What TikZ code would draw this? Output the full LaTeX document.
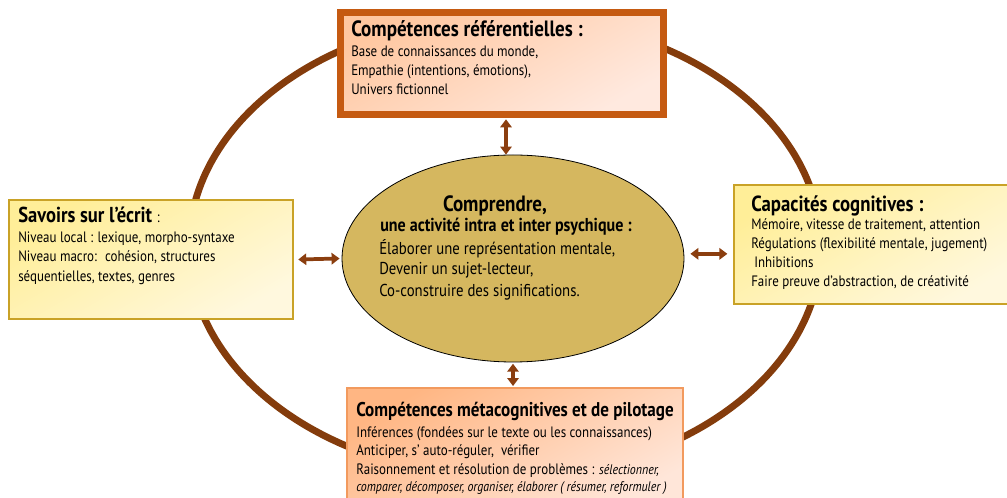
\documentclass[tikz,border=0pt]{standalone}
\usepackage{fontspec}
\setmainfont{PT Sans}[FakeStretch=0.86]
\usetikzlibrary{shapes.geometric,arrows.meta}
\definecolor{ringc}{HTML}{843C0C}
\definecolor{topborder}{HTML}{C55A11}
\definecolor{topA}{HTML}{FFC7A0}
\definecolor{topB}{HTML}{FFE9DF}
\definecolor{yelA}{HTML}{FFEE98}
\definecolor{yelB}{HTML}{FFF8DE}
\definecolor{yelborder}{HTML}{C9A227}
\definecolor{botA}{HTML}{FFB683}
\definecolor{botB}{HTML}{FFE6D9}
\definecolor{botborder}{HTML}{F29A5E}
\definecolor{centerfill}{HTML}{D5B75F}
\definecolor{arrc}{HTML}{8B3E0F}
\newcommand\fsz[1]{\fontsize{#1}{1.2\dimexpr#1\relax}\selectfont}
\tikzset{
  ttl/.style={font=\fsz{15pt}\bfseries, inner sep=0pt, anchor=base west},
  bod/.style={font=\fsz{11.3pt}, inner sep=0pt, anchor=base west},
  ybox/.style={rectangle, draw=yelborder, line width=0.9pt, shade, top color=yelA, bottom color=yelB, shading angle=30, inner sep=0pt},
  dbl/.style={arrc, line width=2.8pt, {Triangle[width=8.5pt,length=6pt]}-{Triangle[width=8.5pt,length=6pt]}}
}
\begin{document}
\begin{tikzpicture}[x=0.75pt,y=-0.75pt]
\useasboundingbox (0,0) rectangle (1007,498);
\clip (0,0) rectangle (1007,498);
% outer ring
\node[ellipse, draw=ringc, line width=5.2pt, minimum width=474pt, minimum height=345pt, inner sep=0pt] (ring) at (505,247) {};
% boxes
\node[rectangle, draw=topborder, line width=5.2pt, shade, top color=topA, bottom color=topB, shading angle=30, minimum width=242.25pt, minimum height=76.5pt, inner sep=0pt] (T) at (502,63.5) {};
\node[ybox, minimum width=213pt, minimum height=89.25pt] (L) at (151,259.5) {};
\node[ybox, minimum width=210.75pt, minimum height=89.25pt] (R) at (874.5,244.5) {};
\node[rectangle, draw=botborder, line width=0.9pt, shade, top color=botA, bottom color=botB, shading angle=30, minimum width=252pt, minimum height=91.5pt, inner sep=0pt] (B) at (515,449) {};
% center ellipse
\node[ellipse, draw=black, line width=0.6pt, fill=centerfill, minimum width=256.5pt, minimum height=155.25pt, inner sep=0pt] (C) at (513,258.5) {};
% arrows
\draw[dbl] ([xshift=3pt,yshift=-1pt]T.south) -- ([xshift=3pt]T.south |- C.north);
\draw[dbl] ([xshift=3.5pt]L.east) -- ([xshift=-1.5pt]C.west);
\draw[dbl] ([xshift=4.5pt,yshift=3.5pt]C.east) -- ([xshift=-4.5pt,yshift=3.5pt]C.east -| R.west);
\draw[dbl] ([yshift=-1pt]C.south) -- ([yshift=1pt]C.south |- B.north);
% top box text
\node[ttl, font=\fsz{16.6pt}\bfseries] (t0) at (351,37) {Compétences référentielles :};
\node[bod] (t1) at (351,57) {Base de connaissances du monde,};
\node[bod] (t2) at (351,76) {Empathie (intentions, émotions),};
\node[bod] (t3) at (351,95) {Univers fictionnel};
% left box text
\node[ttl, font=\fsz{16.2pt}\bfseries] (l0) at (18,223) {Savoirs sur l’écrit \normalfont\fsz{11.3pt}:};
\node[bod] (l1) at (18,243) {Niveau local : lexique, morpho-syntaxe};
\node[bod] (l2) at (18,262) {Niveau macro:~ cohésion, structures};
\node[bod] (l3) at (18,282) {séquentielles, textes, genres};
% right box text
\node[ttl, font=\fsz{16.4pt}\bfseries] (r0) at (751,212) {Capacités cognitives :};
\node[bod] (r1) at (751,230) {Mémoire, vitesse de traitement, attention};
\node[bod] (r2) at (751,249) {Régulations (flexibilité mentale, jugement)};
\node[bod] (r3) at (754,268) {Inhibitions};
\node[bod] (r4) at (751,287) {Faire preuve d’abstraction, de créativité};
% bottom box text
\node[ttl, font=\fsz{14.9pt}\bfseries] (b0) at (356,417) {Compétences métacognitives et de pilotage};
\node[bod] (b1) at (356,438) {Inférences (fondées sur le texte ou les connaissances)};
\node[bod] (b2) at (356,456) {Anticiper, s’ auto-réguler,~ vérifier};
\node[bod] (b3) at (356,475) {Raisonnement et résolution de problèmes : {\itshape\fsz{10.4pt}sélectionner,}};
\node[bod, font=\fsz{10.4pt}\itshape] (b4) at (356,492) {comparer, décomposer, organiser, élaborer ( résumer, reformuler )};
% center text
\node[ttl, anchor=base, font=\fsz{16.6pt}\bfseries] (c0) at (495,212) {Comprendre,};
\node[ttl, font=\fsz{14pt}\bfseries] (c1) at (380,232) {une activité intra et inter psychique :};
\node[bod, font=\fsz{12.9pt}] (c2) at (379,255) {Élaborer une représentation mentale,};
\node[bod, font=\fsz{12.9pt}] (c3) at (379,275) {Devenir un sujet-lecteur,};
\node[bod, font=\fsz{12.9pt}] (c4) at (379,297) {Co-construire des significations.};
\end{tikzpicture}
\end{document}
